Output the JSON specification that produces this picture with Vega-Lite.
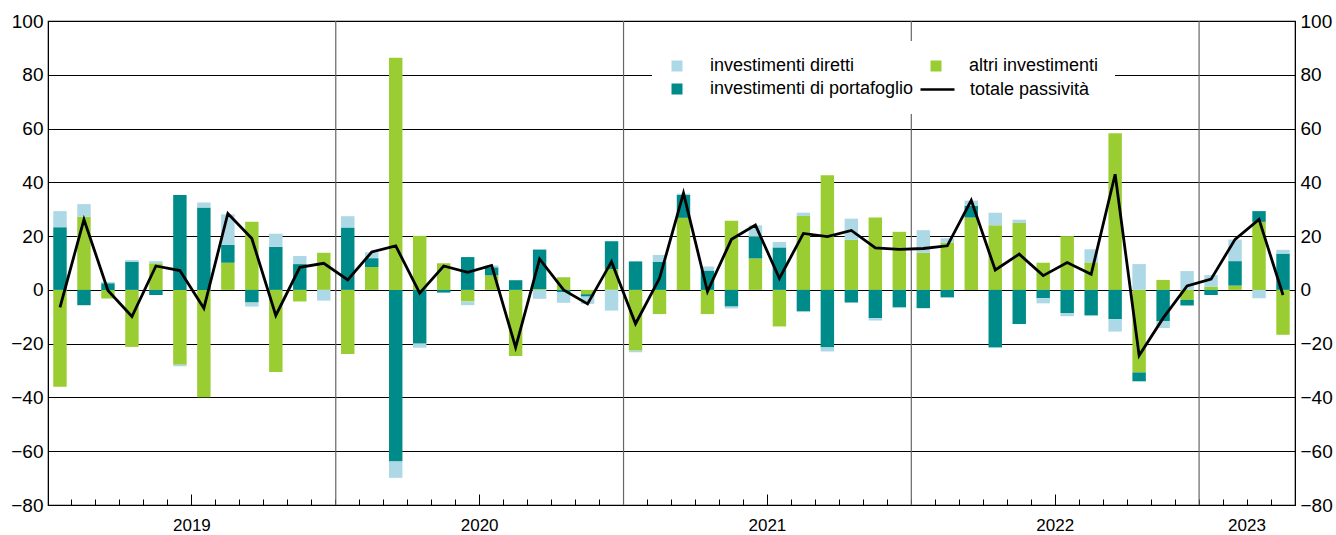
{
  "$schema": "https://vega.github.io/schema/vega-lite/v6.json",
  "width": 1247,
  "height": 484,
  "autosize": {"type": "none"},
  "padding": {"left": 48, "top": 21, "right": 41, "bottom": 30},
  "config": {
    "font": "Liberation Sans",
    "view": {"stroke": "#000", "strokeWidth": 1.2},
    "axis": {"labelColor": "#000", "labelFont": "Liberation Sans"},
    "axisX": {
      "title": null,
      "bandPosition": 0,
      "labelExpr": "slice(datum.value, 5) === '07' || datum.value === '2023-03' ? slice(datum.value, 0, 4) : ''",
      "labelAngle": 0,
      "labelOverlap": false,
      "labelBound": false,
      "labelFontSize": 17,
      "labelPadding": 18,
      "labelOffset": -12,
      "labelBaseline": "top",
      "tickSize": -6,
      "tickColor": "#000",
      "tickWidth": 1,
      "domainColor": "#000",
      "domainWidth": 1.2,
      "grid": false
    },
    "legend": {"labelColor": "#000", "labelFont": "Liberation Sans"}
  },
  "data": {
    "values": [
      {"mese": "2019-01", "investimenti diretti": 6.0, "investimenti di portafoglio": 23.3, "altri investimenti": -36.0, "totale passività": -6.5},
      {"mese": "2019-02", "investimenti diretti": 4.7, "investimenti di portafoglio": -5.7, "altri investimenti": 27.2, "totale passività": 26.2},
      {"mese": "2019-03", "investimenti diretti": 0.4, "investimenti di portafoglio": 2.5, "altri investimenti": -3.2, "totale passività": -0.2},
      {"mese": "2019-04", "investimenti diretti": 0.6, "investimenti di portafoglio": 10.5, "altri investimenti": -21.2, "totale passività": -9.9},
      {"mese": "2019-05", "investimenti diretti": 0.8, "investimenti di portafoglio": -1.9, "altri investimenti": 9.9, "totale passività": 8.9},
      {"mese": "2019-06", "investimenti diretti": -0.6, "investimenti di portafoglio": 35.3, "altri investimenti": -27.8, "totale passività": 7.2},
      {"mese": "2019-07", "investimenti diretti": 1.9, "investimenti di portafoglio": 30.6, "altri investimenti": -39.9, "totale passività": -6.8},
      {"mese": "2019-08", "investimenti diretti": 11.3, "investimenti di portafoglio": 6.7, "altri investimenti": 10.1, "totale passività": 28.4},
      {"mese": "2019-09", "investimenti diretti": -1.5, "investimenti di portafoglio": -4.7, "altri investimenti": 25.3, "totale passività": 19.1},
      {"mese": "2019-10", "investimenti diretti": 4.9, "investimenti di portafoglio": 16.0, "altri investimenti": -30.5, "totale passività": -9.5},
      {"mese": "2019-11", "investimenti diretti": 3.0, "investimenti di portafoglio": 9.6, "altri investimenti": -4.3, "totale passività": 8.4},
      {"mese": "2019-12", "investimenti diretti": -4.0, "investimenti di portafoglio": 0.0, "altri investimenti": 13.8, "totale passività": 9.9},
      {"mese": "2020-01", "investimenti diretti": 4.2, "investimenti di portafoglio": 23.2, "altri investimenti": -23.8, "totale passività": 3.7},
      {"mese": "2020-02", "investimenti diretti": 2.2, "investimenti di portafoglio": 3.3, "altri investimenti": 8.5, "totale passività": 14.1},
      {"mese": "2020-03", "investimenti diretti": -6.1, "investimenti di portafoglio": -63.8, "altri investimenti": 86.3, "totale passività": 16.4},
      {"mese": "2020-04", "investimenti diretti": -1.5, "investimenti di portafoglio": -20.0, "altri investimenti": 20.1, "totale passività": -1.2},
      {"mese": "2020-05", "investimenti diretti": 0.0, "investimenti di portafoglio": -1.0, "altri investimenti": 9.9, "totale passività": 8.9},
      {"mese": "2020-06", "investimenti diretti": -1.4, "investimenti di portafoglio": 12.2, "altri investimenti": -4.3, "totale passività": 6.5},
      {"mese": "2020-07", "investimenti diretti": 0.7, "investimenti di portafoglio": 3.0, "altri investimenti": 5.4, "totale passività": 9.1},
      {"mese": "2020-08", "investimenti diretti": 0.0, "investimenti di portafoglio": 3.6, "altri investimenti": -24.6, "totale passività": -21.4},
      {"mese": "2020-09", "investimenti diretti": -3.3, "investimenti di portafoglio": 14.7, "altri investimenti": 0.3, "totale passività": 11.5},
      {"mese": "2020-10", "investimenti diretti": -3.9, "investimenti di portafoglio": -0.9, "altri investimenti": 4.7, "totale passività": 0.0},
      {"mese": "2020-11", "investimenti diretti": -2.7, "investimenti di portafoglio": -0.9, "altri investimenti": -1.6, "totale passività": -5.2},
      {"mese": "2020-12", "investimenti diretti": -7.7, "investimenti di portafoglio": 10.4, "altri investimenti": 7.7, "totale passività": 10.5},
      {"mese": "2021-01", "investimenti diretti": -0.6, "investimenti di portafoglio": 10.6, "altri investimenti": -22.6, "totale passività": -12.6},
      {"mese": "2021-02", "investimenti diretti": 2.5, "investimenti di portafoglio": 10.5, "altri investimenti": -9.0, "totale passività": 4.3},
      {"mese": "2021-03", "investimenti diretti": 0.5, "investimenti di portafoglio": 8.5, "altri investimenti": 26.8, "totale passività": 36.0},
      {"mese": "2021-04", "investimenti diretti": 1.5, "investimenti di portafoglio": 7.2, "altri investimenti": -9.0, "totale passività": -0.6},
      {"mese": "2021-05", "investimenti diretti": -0.7, "investimenti di portafoglio": -6.2, "altri investimenti": 25.7, "totale passività": 18.8},
      {"mese": "2021-06", "investimenti diretti": 4.2, "investimenti di portafoglio": 8.1, "altri investimenti": 11.7, "totale passività": 24.1},
      {"mese": "2021-07", "investimenti diretti": 2.0, "investimenti di portafoglio": 15.8, "altri investimenti": -13.6, "totale passività": 4.3},
      {"mese": "2021-08", "investimenti diretti": 1.2, "investimenti di portafoglio": -8.0, "altri investimenti": 27.5, "totale passività": 21.0},
      {"mese": "2021-09", "investimenti diretti": -1.5, "investimenti di portafoglio": -21.4, "altri investimenti": 42.6, "totale passività": 19.8},
      {"mese": "2021-10", "investimenti diretti": 7.9, "investimenti di portafoglio": -4.7, "altri investimenti": 18.6, "totale passività": 22.1},
      {"mese": "2021-11", "investimenti diretti": -0.9, "investimenti di portafoglio": -10.5, "altri investimenti": 26.9, "totale passività": 15.6},
      {"mese": "2021-12", "investimenti diretti": 0.0, "investimenti di portafoglio": -6.5, "altri investimenti": 21.6, "totale passività": 15.1},
      {"mese": "2022-01", "investimenti diretti": 8.4, "investimenti di portafoglio": -6.8, "altri investimenti": 13.8, "totale passività": 15.4},
      {"mese": "2022-02", "investimenti diretti": 1.7, "investimenti di portafoglio": -2.8, "altri investimenti": 17.5, "totale passività": 16.4},
      {"mese": "2022-03", "investimenti diretti": 1.9, "investimenti di portafoglio": 4.4, "altri investimenti": 26.9, "totale passività": 33.3},
      {"mese": "2022-04", "investimenti diretti": 4.7, "investimenti di portafoglio": -21.4, "altri investimenti": 24.0, "totale passività": 7.4},
      {"mese": "2022-05", "investimenti diretti": 1.2, "investimenti di portafoglio": -12.7, "altri investimenti": 24.9, "totale passività": 13.3},
      {"mese": "2022-06", "investimenti diretti": -1.9, "investimenti di portafoglio": -3.1, "altri investimenti": 10.1, "totale passività": 5.3},
      {"mese": "2022-07", "investimenti diretti": -1.2, "investimenti di portafoglio": -8.6, "altri investimenti": 20.0, "totale passività": 10.2},
      {"mese": "2022-08", "investimenti diretti": 4.9, "investimenti di portafoglio": -9.5, "altri investimenti": 10.2, "totale passività": 5.8},
      {"mese": "2022-09", "investimenti diretti": -4.6, "investimenti di portafoglio": -10.9, "altri investimenti": 58.3, "totale passività": 43.0},
      {"mese": "2022-10", "investimenti diretti": 9.6, "investimenti di portafoglio": -3.3, "altri investimenti": -30.7, "totale passività": -24.4},
      {"mese": "2022-11", "investimenti diretti": -2.5, "investimenti di portafoglio": -11.7, "altri investimenti": 3.7, "totale passività": -10.5},
      {"mese": "2022-12", "investimenti diretti": 7.0, "investimenti di portafoglio": -2.1, "altri investimenti": -3.7, "totale passività": 1.5},
      {"mese": "2023-01", "investimenti diretti": 4.3, "investimenti di portafoglio": -1.9, "altri investimenti": 1.2, "totale passività": 4.0},
      {"mese": "2023-02", "investimenti diretti": 8.0, "investimenti di portafoglio": 9.1, "altri investimenti": 1.6, "totale passività": 18.8},
      {"mese": "2023-03", "investimenti diretti": -3.1, "investimenti di portafoglio": 4.0, "altri investimenti": 25.3, "totale passività": 26.2},
      {"mese": "2023-04", "investimenti diretti": 1.4, "investimenti di portafoglio": 13.5, "altri investimenti": -16.7, "totale passività": -1.9}
    ]
  },
  "layer": [
    {
      "transform": [{"filter": "slice(datum.mese, 5) === '01' && datum.mese !== '2019-01'"}],
      "mark": {"type": "rule", "color": "#666666", "strokeWidth": 1.2},
      "encoding": {
        "x": {"field": "mese", "type": "ordinal", "bandPosition": 0, "scale": {"paddingInner": 0, "paddingOuter": 0}}
      }
    },
    {
      "transform": [{"fold": ["altri investimenti", "investimenti di portafoglio", "investimenti diretti"], "as": ["serie", "valore"]}],
      "mark": {"type": "bar", "width": {"band": 0.56}},
      "encoding": {
        "x": {
          "field": "mese", "type": "ordinal", "scale": {"paddingInner": 0, "paddingOuter": 0},
          "axis": {
            "tickSize": {"condition": {"test": "slice(datum.value, 5) === '07'", "value": -11}, "value": -6},
            "labelPadding": {"condition": {"test": "slice(datum.value, 5) === '07'", "value": 23}, "value": 18}
          }
        },
        "y": {
          "field": "valore", "type": "quantitative", "stack": "zero",
          "scale": {"domain": [-80, 100], "nice": false},
          "axis": {
            "title": null,
            "orient": "left",
            "values": [-80, -60, -40, -20, 0, 20, 40, 60, 80, 100],
            "grid": true,
            "gridColor": "#000",
            "gridWidth": 1.2,
            "gridOpacity": 1,
            "tickSize": 0,
            "domainColor": "#000",
            "labelFontSize": 19,
            "labelPadding": 5
          }
        },
        "order": {"field": "serie", "sort": "ascending"},
        "color": {
          "field": "serie", "type": "nominal",
          "scale": {
            "domain": ["investimenti diretti", "investimenti di portafoglio", "altri investimenti"],
            "range": ["#add8e6", "#008b8b", "#9acd32"]
          },
          "legend": {
            "title": null,
            "orient": "none",
            "legendX": 604,
            "legendY": 20,
            "columns": 2,
            "symbolType": "square",
            "symbolSize": 121,
            "symbolStrokeWidth": 0,
            "labelFontSize": 18,
            "labelOffset": 24,
            "labelLimit": 400,
            "columnPadding": 13,
            "rowPadding": 5,
            "padding": 16,
            "fillColor": "#ffffff"
          }
        }
      }
    },
    {
      "mark": {"type": "line", "strokeWidth": 2.8, "strokeJoin": "miter"},
      "encoding": {
        "x": {"field": "mese", "type": "ordinal", "scale": {"paddingInner": 0, "paddingOuter": 0}},
        "y": {
          "field": "totale passività", "type": "quantitative",
          "axis": {
            "title": null,
            "orient": "right",
            "values": [-80, -60, -40, -20, 0, 20, 40, 60, 80, 100],
            "grid": false,
            "tickSize": 0,
            "domainColor": "#000",
            "labelFontSize": 19,
            "labelPadding": 5
          }
        },
        "stroke": {
          "datum": "totale passività", "type": "nominal",
          "scale": {"range": ["#000000"]},
          "legend": {
            "title": null,
            "orient": "none",
            "legendX": 867,
            "legendY": 46,
            "symbolType": "stroke",
            "symbolSize": 1156,
            "symbolStrokeWidth": 2.5,
            "labelFontSize": 18,
            "labelOffset": 14,
            "labelLimit": 400,
            "padding": 4
          }
        }
      }
    }
  ]
}
